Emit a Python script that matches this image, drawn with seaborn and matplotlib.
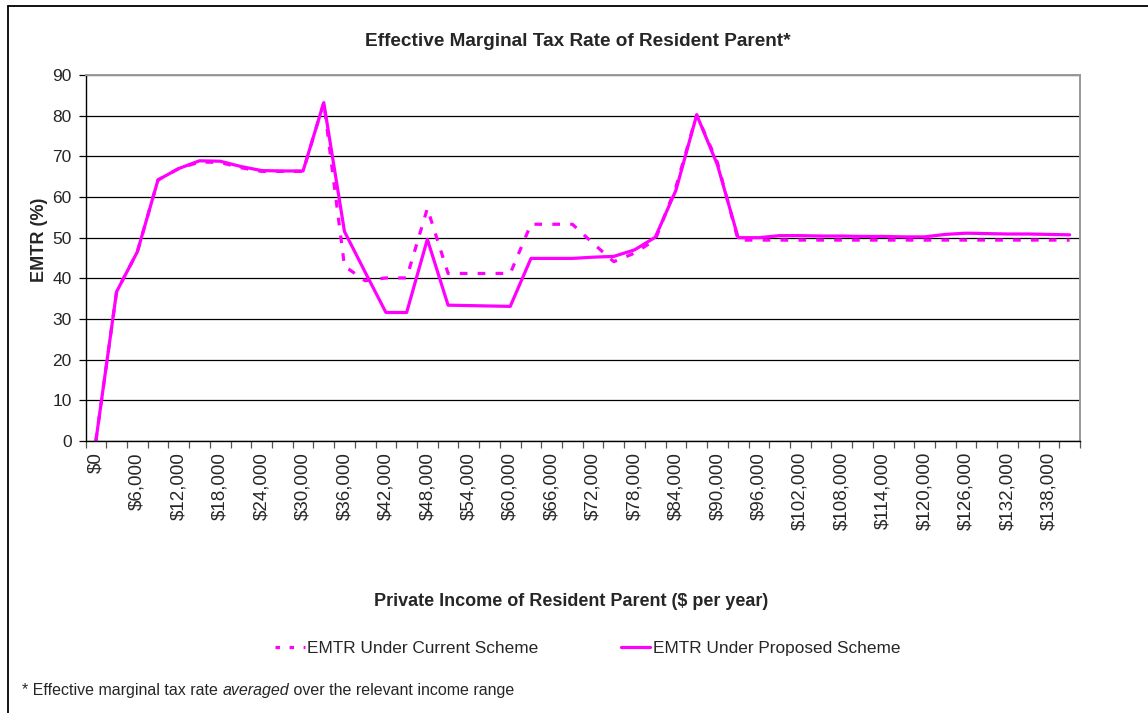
import numpy as np
import pandas as pd
import matplotlib
matplotlib.use("Agg")
import matplotlib.pyplot as plt
from matplotlib.lines import Line2D
import seaborn as sns

# Income bands (private income of resident parent, $ per year)
income = [0, 3000, 6000, 9000, 12000, 15000, 18000, 21000, 24000, 27000,
          30000, 33000, 36000, 39000, 42000, 45000, 48000, 51000, 54000, 57000,
          60000, 63000, 66000, 69000, 72000, 75000, 78000, 81000, 84000, 87000,
          90000, 93000, 96000, 99000, 102000, 105000, 108000, 111000, 114000, 117000,
          120000, 123000, 126000, 129000, 132000, 135000, 138000, 141000]

# EMTR (%) under the current child support scheme
emtr_current = [0.0, 36.7, 46.5, 64.2, 67.0, 68.6, 68.5, 67.2, 66.3, 66.3,
                66.3, 83.2, 43.0, 39.4, 40.1, 40.1, 57.2, 41.2, 41.2, 41.2,
                41.2, 53.3, 53.3, 53.3, 48.6, 44.1, 46.2, 49.5, 62.5, 80.2,
                68.5, 49.4, 49.4, 49.4, 49.4, 49.4, 49.4, 49.4, 49.4, 49.4,
                49.4, 49.4, 49.4, 49.4, 49.4, 49.4, 49.4, 49.4]

# EMTR (%) under the proposed scheme
emtr_proposed = [0.0, 36.7, 46.5, 64.2, 67.0, 68.9, 68.8, 67.5, 66.5, 66.4,
                 66.4, 83.2, 51.5, 41.5, 31.6, 31.6, 49.6, 33.4, 33.3, 33.2,
                 33.1, 44.9, 44.9, 44.9, 45.2, 45.4, 47.0, 50.1, 61.7, 80.2,
                 67.9, 50.0, 50.0, 50.5, 50.5, 50.4, 50.4, 50.3, 50.3, 50.2,
                 50.2, 50.8, 51.1, 51.0, 50.9, 50.9, 50.8, 50.7]

series_names = ["EMTR Under Current Scheme", "EMTR Under Proposed Scheme"]
y_ticks = [0, 10, 20, 30, 40, 50, 60, 70, 80, 90]

sns.set_theme(style="white")
plt.rcParams["font.family"] = ["Liberation Sans", "DejaVu Sans"]

W, H = 1148, 713
fig = plt.figure(figsize=(W / 100, H / 100), dpi=100)
fig.patch.set_facecolor("white")


def fx(px):
    return px / W


def fy(py):
    return 1 - py / H


left, right, top, bottom = 85.5, 1080, 75, 441
ax = fig.add_axes([fx(left), fy(bottom), fx(right - left), (bottom - top) / H])

n = len(income)
pos = np.arange(n)
df = pd.DataFrame({
    "pos": np.concatenate([pos, pos]),
    "EMTR": emtr_current + emtr_proposed,
    "Scheme": [series_names[0]] * n + [series_names[1]] * n,
})

magenta = "#FF00FF"
sns.lineplot(data=df, x="pos", y="EMTR", hue="Scheme", style="Scheme",
             palette={s: magenta for s in series_names},
             dashes={series_names[0]: (2.4, 3.2), series_names[1]: ""},
             linewidth=2.3, legend=False, ax=ax, sort=False)

ax.set_xlim(-0.5, n - 0.5)
ax.set_ylim(0, 90)
ax.set_xlabel("")
ax.set_ylabel("")

# y axis
ax.set_yticks(y_ticks)
ax.set_yticklabels([str(v) for v in y_ticks], fontsize=12.5)
ax.yaxis.grid(True, color="black", linewidth=0.9)
ax.set_axisbelow(True)
ax.tick_params(axis="y", which="major", length=5, width=0.9, color="black",
               pad=5, left=True, direction="out")

# x axis: band boundaries carry tick marks, every other band gets a label
ax.set_xticks(pos[::2])
ax.set_xticklabels([f"${v:,.0f}" for v in income[::2]], rotation=90,
                   fontsize=13.5, va="top", ha="center")
ax.set_xticks(np.arange(n + 1) - 0.5, minor=True)
ax.tick_params(axis="x", which="major", length=0, pad=8, bottom=True)
ax.tick_params(axis="x", which="minor", length=5, width=0.9, color="#555555",
               bottom=True, direction="out")

for side in ("left", "bottom"):
    ax.spines[side].set_color("black")
    ax.spines[side].set_linewidth(1.0)
for side in ("top", "right"):
    ax.spines[side].set_visible(True)
    ax.spines[side].set_color("#999999")
    ax.spines[side].set_linewidth(1.4)

# Titles and axis labels
fig.text(fx(578), fy(42), "Effective Marginal Tax Rate of Resident Parent*",
         ha="center", va="center", fontsize=13.7, fontweight="bold")
fig.text(fx(40), fy(240), "EMTR (%)", rotation=90, ha="center", va="center",
         fontsize=13, fontweight="bold")
fig.text(fx(571), fy(602), "Private Income of Resident Parent ($ per year)",
         ha="center", va="center", fontsize=13, fontweight="bold")

# Legend below the axis title
handles = [Line2D([], [], color=magenta, lw=2.3, dashes=(1.4, 3.0)),
           Line2D([], [], color=magenta, lw=2.3)]
fig.legend(handles, series_names, loc="center", bbox_to_anchor=(fx(588), fy(648)),
           ncol=2, frameon=False, fontsize=12.4, handlelength=1.7,
           handletextpad=0.15, columnspacing=4.8)

# Footnote with an italic word
note_size = 11.5
t1 = fig.text(fx(22), fy(698), "* Effective marginal tax rate ", ha="left",
              va="bottom", fontsize=note_size)
t2 = fig.add_artist(plt.Annotation("averaged", xy=(1, 0), xycoords=t1,
                                   ha="left", va="bottom", fontsize=note_size,
                                   style="italic", annotation_clip=False))
fig.add_artist(plt.Annotation(" over the relevant income range", xy=(1, 0),
                              xycoords=t2, ha="left", va="bottom",
                              fontsize=note_size, annotation_clip=False))

# Outer chart frame
fig.add_artist(Line2D([fx(8), fx(8)], [fy(6), 0], color="black", lw=1.3,
                      transform=fig.transFigure))
fig.add_artist(Line2D([fx(8), 1], [fy(6), fy(6)], color="black", lw=1.3,
                      transform=fig.transFigure))

fig.savefig("out.png", dpi=100, facecolor="white")
